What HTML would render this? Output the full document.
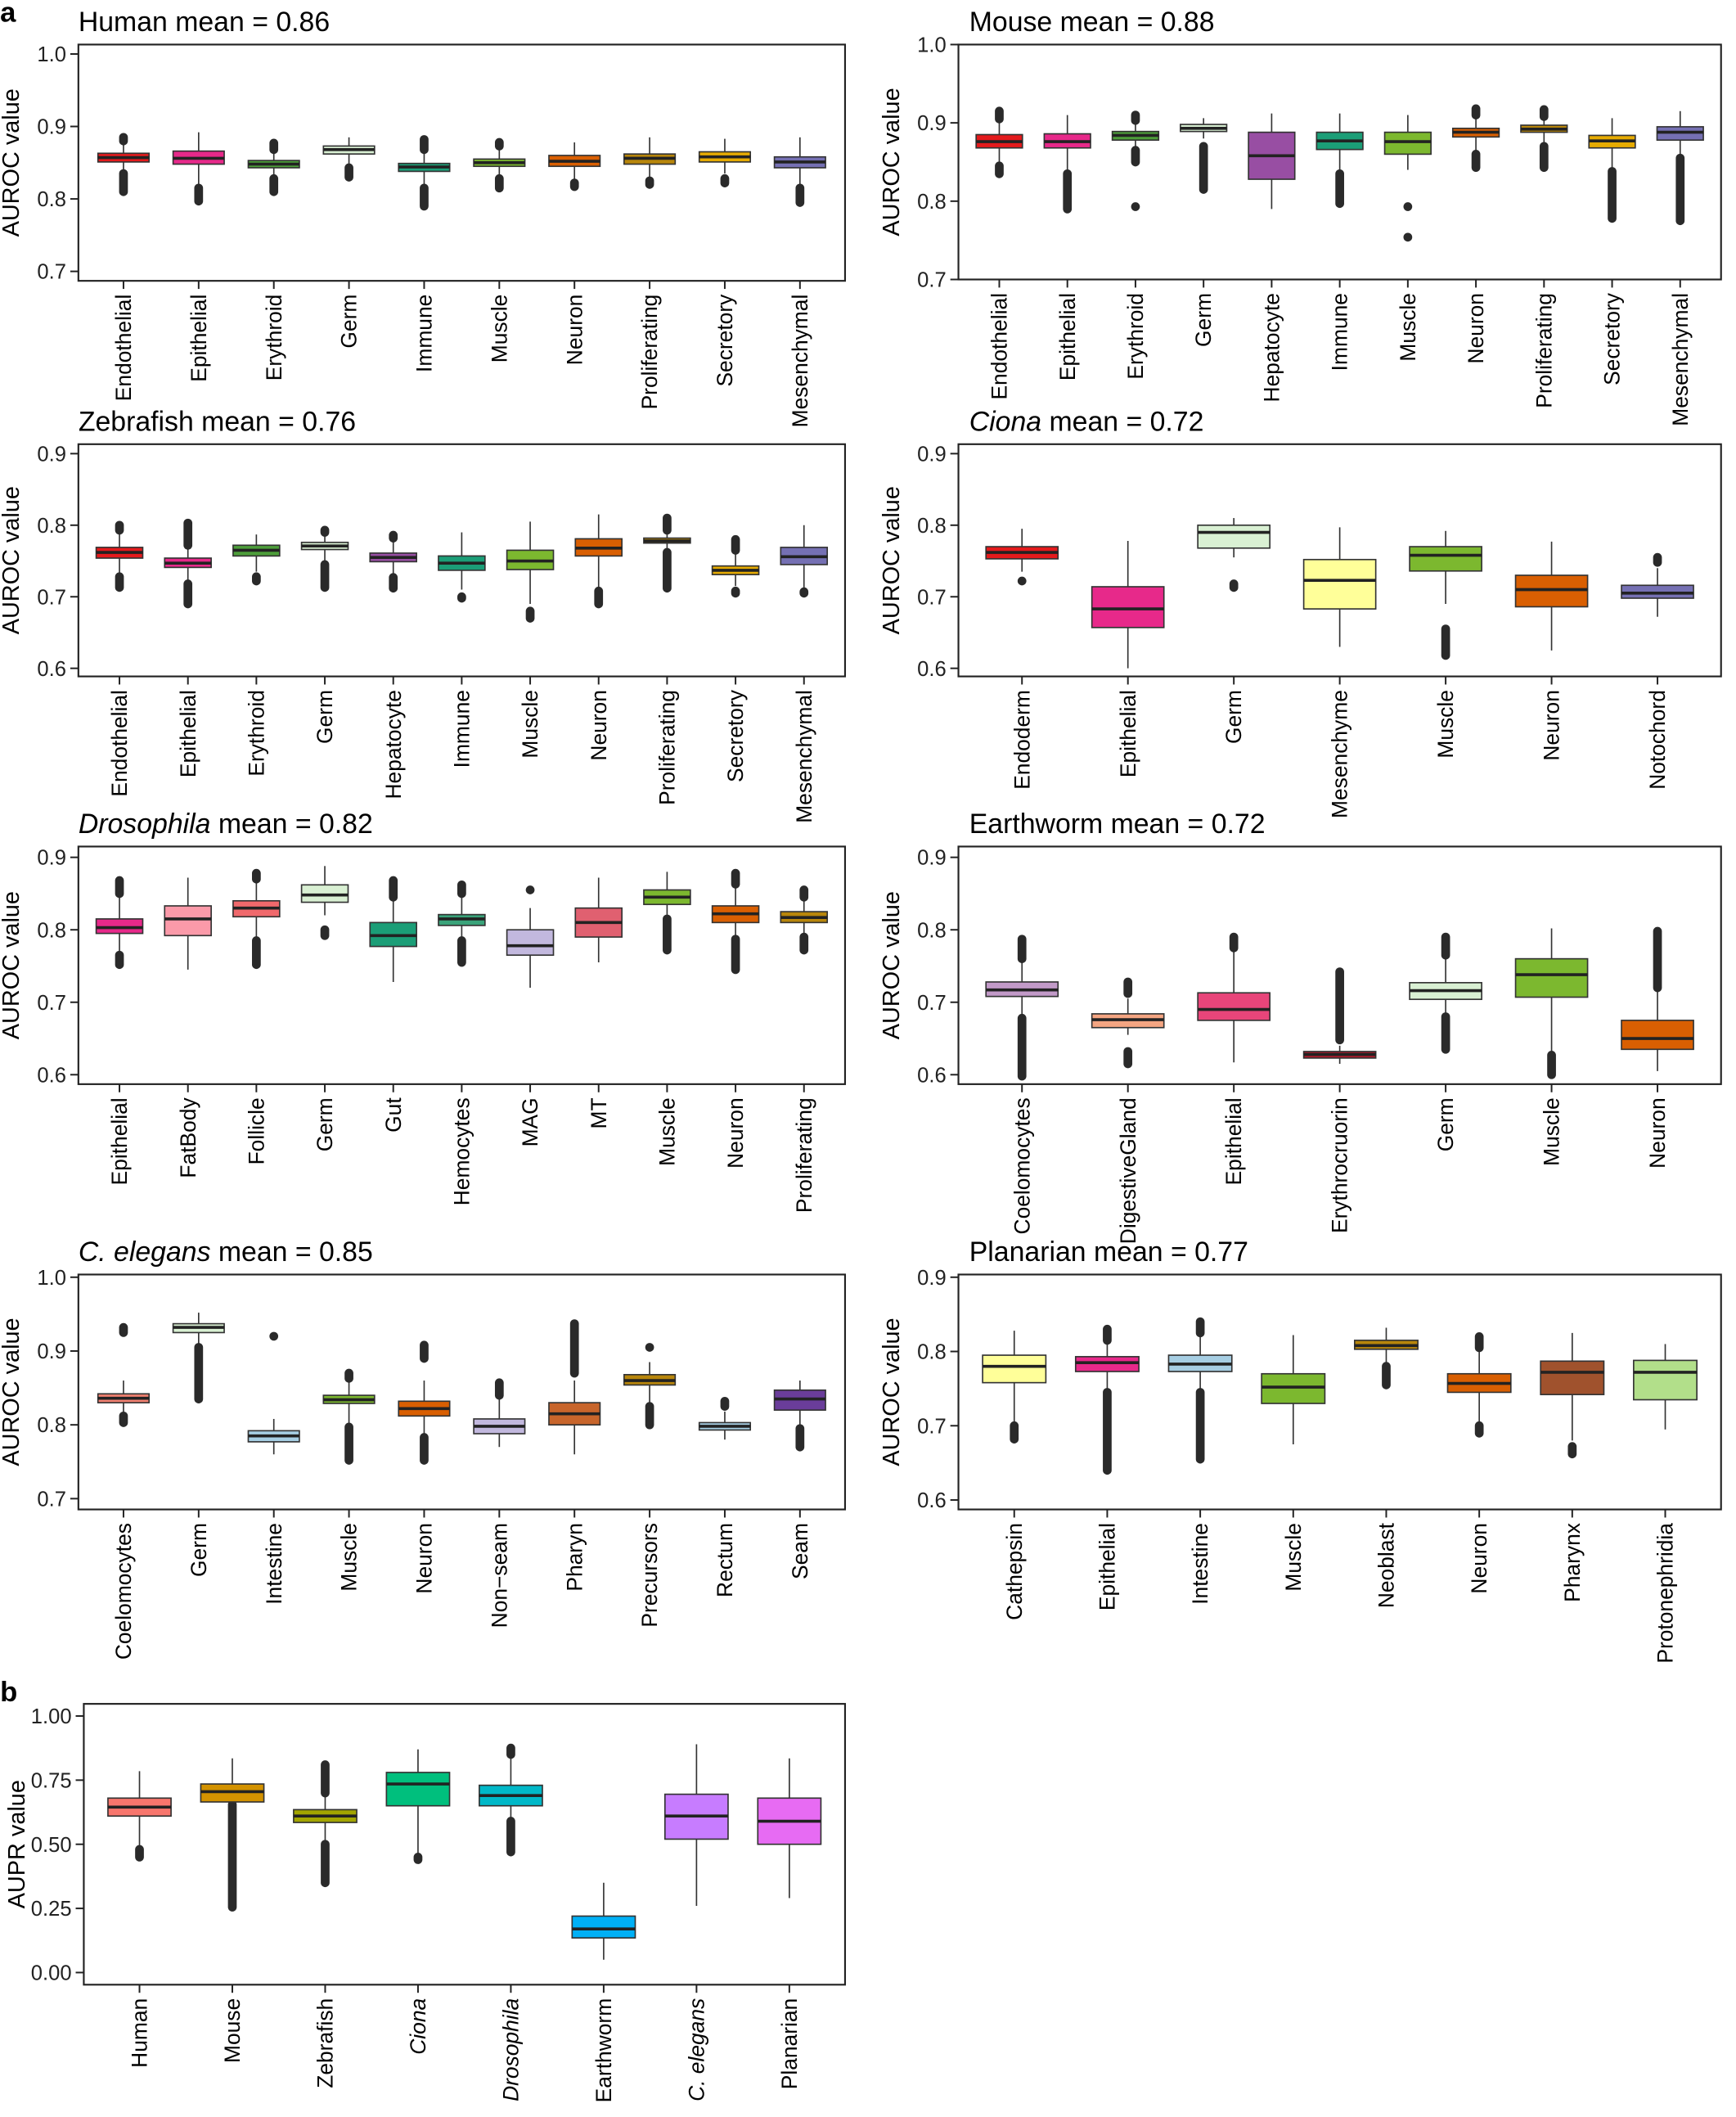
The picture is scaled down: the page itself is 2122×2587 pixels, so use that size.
<!DOCTYPE html>
<html><head><meta charset="utf-8"><style>html,body{margin:0;padding:0;background:#fff}svg{display:block}</style></head>
<body>
<svg id="s" xmlns="http://www.w3.org/2000/svg" width="2122" height="2587" viewBox="0 0 1286 1568" font-family="Liberation Sans, Arial, sans-serif">
<rect width="1286" height="1568" fill="#fff"/>
<text x="0" y="16" font-size="21" font-weight="bold">a</text>
<text x="0" y="1260" font-size="21" font-weight="bold">b</text>
</svg>
<script>
const S=document.getElementById('s');const NS='http://www.w3.org/2000/svg';
function el(t,a,txt){const e=document.createElementNS(NS,t);for(const k in a)e.setAttribute(k,a[k]);if(txt!=null)e.textContent=txt;S.appendChild(e);return e;}
const R='#e41a1c',PK='#e7298a',GR='#4d9e3a',LG='#d9f0d3',TE='#1b9e77',MG='#7cb82f',OR='#d95f02',GB='#b8860b',GO='#e6ab02',SP='#7570b3',HP='#984ea3',Y='#ffff99',LB='#a6cee3';
function panel(p){
 const {x0,x1,y0,y1,vmin,vmax,t0,t1,ticks,title,italic,cats,ylab,dec}=p;
 const Y=v=>t1+(v-vmin)/(vmax-vmin)*(t0-t1);
 const tx=x0>600?x0+8:x0;
 const tt=el('text',{x:tx,y:y0-10,'font-size':20.5});
 if(italic){const a=document.createElementNS(NS,'tspan');a.setAttribute('font-style','italic');a.textContent=italic;tt.appendChild(a);tt.appendChild(document.createTextNode(' '+title));}
 else tt.textContent=title;
 el('rect',{x:x0,y:y0,width:x1-x0,height:y1-y0,fill:'none',stroke:'#222','stroke-width':1.3});
 ticks.forEach(v=>{const y=Y(v);el('line',{x1:x0-6,x2:x0,y1:y,y2:y,stroke:'#222','stroke-width':1.2});
  el('text',{x:x0-9,y:y+5.5,'font-size':15.5,'text-anchor':'end',fill:'#222'},v.toFixed(dec||1));});
 const cy=(y0+y1)/2, lx=x0-44;
 el('text',{x:lx,y:cy,'font-size':17.5,'text-anchor':'middle',transform:`rotate(-90 ${lx} ${cy})`},ylab||'AUROC value');
 const n=cats.length,sp=(x1-x0)/(n+0.2),bw=sp*0.68;
 cats.forEach((c,i)=>{
  const cx=x0+sp*(0.6+i);const [name,col,d,outs,it]=c;
  el('line',{x1:cx,x2:cx,y1:y1,y2:y1+6,stroke:'#222','stroke-width':1.2});
  const ly=y1+10;
  el('text',{x:cx,y:ly+5.5,'font-size':16,'text-anchor':'end',transform:`rotate(-90 ${cx} ${ly})`,'font-style':it?'italic':'normal'},name);
  el('line',{x1:cx,x2:cx,y1:Y(d[0]),y2:Y(d[4]),stroke:'#333','stroke-width':1});
  (outs||[]).forEach(o=>el('line',{x1:cx,x2:cx,y1:Y(o[0]),y2:Y(o[1]),stroke:'#2a2a2a','stroke-width':6.5,'stroke-linecap':'round'}));
  el('rect',{x:cx-bw/2,y:Y(d[3]),width:bw,height:Math.max(Y(d[1])-Y(d[3]),2),fill:col,stroke:'#333','stroke-width':1});
  el('line',{x1:cx-bw/2,x2:cx+bw/2,y1:Y(d[2]),y2:Y(d[2]),stroke:'#222','stroke-width':2.2});
 });
}
const L={x0:58,x1:626},Rr={x0:710,x1:1275};
panel({...L,y0:33,y1:208,vmin:.7,vmax:1,t0:40,t1:201,ticks:[.7,.8,.9,1.0],title:'Human mean = 0.86',cats:[
['Endothelial',R,[.82,.851,.857,.863,.875],[[.81,.835],[.88,.885]]],
['Epithelial',PK,[.82,.848,.856,.866,.892],[[.797,.815]]],
['Erythroid',GR,[.83,.843,.848,.853,.865],[[.81,.828],[.868,.877]]],
['Germ',LG,[.845,.862,.868,.873,.885],[[.83,.843]]],
['Immune',TE,[.82,.838,.844,.849,.865],[[.79,.815],[.868,.882]]],
['Muscle',MG,[.83,.845,.85,.855,.87],[[.815,.828],[.873,.878]]],
['Neuron',OR,[.825,.845,.852,.86,.878],[[.817,.822]]],
['Proliferating',GB,[.83,.848,.856,.862,.885],[[.82,.825]]],
['Secretory',GO,[.835,.851,.858,.865,.883],[[.822,.828]]],
['Mesenchymal',SP,[.82,.843,.851,.858,.885],[[.795,.815]]]]});
panel({...Rr,y0:33,y1:207,vmin:.7,vmax:1,t0:33,t1:207,ticks:[.7,.8,.9,1.0],title:'Mouse mean = 0.88',cats:[
['Endothelial',R,[.85,.868,.876,.885,.9],[[.835,.845],[.905,.915]]],
['Epithelial',PK,[.84,.868,.876,.886,.91],[[.79,.835]]],
['Erythroid',GR,[.865,.878,.884,.889,.9],[[.85,.865],[.903,.91],[.793,.793]]],
['Germ',LG,[.88,.889,.893,.898,.906],[[.815,.87]]],
['Hepatocyte',HP,[.79,.828,.858,.888,.912],[]],
['Immune',TE,[.84,.866,.877,.888,.912],[[.797,.835]]],
['Muscle',MG,[.84,.86,.876,.888,.91],[[.793,.793],[.754,.754]]],
['Neuron',OR,[.86,.882,.888,.893,.905],[[.843,.86],[.91,.918]]],
['Proliferating',GB,[.87,.888,.892,.897,.905],[[.843,.87],[.908,.917]]],
['Secretory',GO,[.84,.868,.877,.884,.906],[[.778,.838]]],
['Mesenchymal',SP,[.86,.878,.888,.895,.915],[[.775,.855]]]]});
panel({...L,y0:329,y1:501,vmin:.6,vmax:.9,t0:336,t1:495,ticks:[.6,.7,.8,.9],title:'Zebrafish mean = 0.76',cats:[
['Endothelial',R,[.73,.754,.762,.769,.79],[[.713,.728],[.793,.8]]],
['Epithelial',PK,[.72,.741,.747,.754,.77],[[.69,.718],[.772,.803]]],
['Erythroid',GR,[.735,.757,.765,.772,.787],[[.722,.728]]],
['Germ',LG,[.75,.766,.771,.776,.788],[[.713,.745],[.79,.793]]],
['Hepatocyte',HP,[.73,.749,.755,.761,.778],[[.712,.727],[.782,.786]]],
['Immune',TE,[.71,.737,.747,.757,.79],[[.698,.7]]],
['Muscle',MG,[.69,.738,.75,.765,.805],[[.67,.68]]],
['Neuron',OR,[.71,.757,.768,.781,.815],[[.69,.708]]],
['Proliferating',GB,[.765,.775,.778,.782,.79],[[.712,.762],[.793,.81]]],
['Secretory',GO,[.715,.731,.737,.743,.76],[[.705,.708],[.765,.78]]],
['Mesenchymal',SP,[.71,.745,.756,.769,.8],[[.705,.707]]]]});
panel({...Rr,y0:329,y1:501,vmin:.6,vmax:.9,t0:336,t1:495,ticks:[.6,.7,.8,.9],italic:'Ciona',title:'mean = 0.72',cats:[
['Endoderm',R,[.735,.753,.762,.77,.795],[[.722,.722]]],
['Epithelial',PK,[.6,.657,.683,.714,.778],[]],
['Germ',LG,[.755,.768,.79,.8,.81],[[.713,.718]]],
['Mesenchyme',Y,[.63,.683,.723,.752,.797],[]],
['Muscle',MG,[.69,.736,.758,.77,.792],[[.618,.655]]],
['Neuron',OR,[.625,.686,.71,.73,.777],[]],
['Notochord',SP,[.672,.698,.705,.716,.74],[[.748,.755]]]]});
panel({...L,y0:627,y1:803,vmin:.6,vmax:.9,t0:635,t1:796,ticks:[.6,.7,.8,.9],italic:'Drosophila',title:'mean = 0.82',cats:[
['Epithelial',PK,[.77,.795,.803,.815,.845],[[.752,.765],[.85,.868]]],
['FatBody','#fb9aa9',[.745,.792,.815,.833,.872],[]],
['Follicle','#f0696c',[.79,.818,.83,.84,.865],[[.752,.785],[.87,.878]]],
['Germ',LG,[.82,.838,.848,.862,.888],[[.792,.8]]],
['Gut',TE,[.728,.777,.792,.81,.84],[[.845,.868]]],
['Hemocytes','#3aa37a',[.79,.806,.815,.821,.845],[[.755,.785],[.85,.862]]],
['MAG','#c2b8de',[.72,.765,.778,.8,.83],[[.855,.855]]],
['MT','#e06070',[.755,.79,.81,.83,.872],[]],
['Muscle',MG,[.82,.835,.845,.855,.88],[[.772,.815]]],
['Neuron',OR,[.79,.81,.822,.833,.86],[[.745,.787],[.863,.878]]],
['Proliferating',GB,[.795,.81,.817,.825,.84],[[.772,.79],[.845,.855]]]]});
panel({...Rr,y0:627,y1:803,vmin:.6,vmax:.9,t0:635,t1:796,ticks:[.6,.7,.8,.9],title:'Earthworm mean = 0.72',cats:[
['Coelomocytes','#c29ac8',[.68,.708,.717,.728,.755],[[.598,.678],[.76,.787]]],
['DigestiveGland','#f4a582',[.655,.665,.676,.684,.705],[[.615,.632],[.712,.728]]],
['Epithelial','#e8457a',[.617,.675,.69,.713,.77],[[.775,.79]]],
['Erythrocruorin','#b2182b',[.615,.623,.628,.632,.64],[[.648,.742]]],
['Germ',LG,[.685,.704,.716,.727,.76],[[.635,.68],[.765,.79]]],
['Muscle',MG,[.63,.707,.738,.76,.802],[[.6,.627]]],
['Neuron',OR,[.605,.635,.65,.675,.72],[[.72,.798]]]]});
panel({...L,y0:944,y1:1118,vmin:.7,vmax:1,t0:946,t1:1110,ticks:[.7,.8,.9,1.0],italic:'C. elegans',title:'mean = 0.85',cats:[
['Coelomocytes','#f08070',[.815,.83,.836,.842,.86],[[.803,.812],[.925,.932]]],
['Germ',LG,[.91,.925,.932,.937,.952],[[.835,.905]]],
['Intestine',LB,[.76,.777,.785,.792,.808],[[.92,.92]]],
['Muscle',MG,[.8,.829,.834,.84,.86],[[.752,.797],[.863,.87]]],
['Neuron',OR,[.785,.812,.822,.832,.86],[[.752,.783],[.89,.908]]],
['Non\u2212seam','#c2b8de',[.77,.788,.798,.808,.835],[[.84,.857]]],
['Pharyn','#c8652b',[.76,.8,.815,.83,.86],[[.87,.937]]],
['Precursors',GB,[.83,.854,.86,.868,.885],[[.8,.825],[.905,.905]]],
['Rectum',LB,[.78,.793,.798,.803,.818],[[.825,.832]]],
['Seam','#6a3d9a',[.8,.82,.835,.847,.86],[[.77,.795]]]]});
panel({...Rr,y0:944,y1:1118,vmin:.6,vmax:.9,t0:946,t1:1111,ticks:[.6,.7,.8,.9],title:'Planarian mean = 0.77',cats:[
['Cathepsin',Y,[.705,.758,.78,.795,.828],[[.682,.7]]],
['Epithelial',PK,[.75,.773,.785,.793,.81],[[.64,.745],[.815,.83]]],
['Intestine',LB,[.75,.773,.783,.795,.82],[[.655,.745],[.825,.84]]],
['Muscle',MG,[.675,.73,.752,.77,.822],[]],
['Neoblast',GB,[.785,.803,.808,.815,.832],[[.755,.78]]],
['Neuron',OR,[.705,.745,.757,.77,.8],[[.69,.7],[.805,.82]]],
['Pharynx','#a0522d',[.68,.742,.772,.787,.825],[[.662,.672]]],
['Protonephridia','#b2df8a',[.695,.735,.772,.788,.81],[]]]});
panel({x0:62,x1:626,y0:1262,y1:1470,vmin:0,vmax:1,t0:1271,t1:1461,ticks:[0,.25,.5,.75,1],dec:2,title:'',ylab:'AUPR value',cats:[
['Human','#f8766d',[.48,.61,.645,.68,.785],[[.45,.48]]],
['Mouse','#d39200',[.66,.665,.705,.735,.835],[[.255,.655]]],
['Zebrafish','#a3a500',[.5,.585,.61,.635,.69],[[.35,.5],[.7,.81]]],
['Ciona','#00bf7d',[.45,.65,.735,.78,.87],[[.44,.45]],1],
['Drosophila','#00b8c8',[.6,.65,.69,.73,.84],[[.47,.59],[.85,.875]],1],
['Earthworm','#00b0f6',[.05,.135,.17,.22,.35],[]],
['C. elegans','#c77cff',[.26,.52,.61,.695,.89],[],1],
['Planarian','#e76bf3',[.29,.5,.59,.68,.835],[]]]});
</script>
</body></html>
